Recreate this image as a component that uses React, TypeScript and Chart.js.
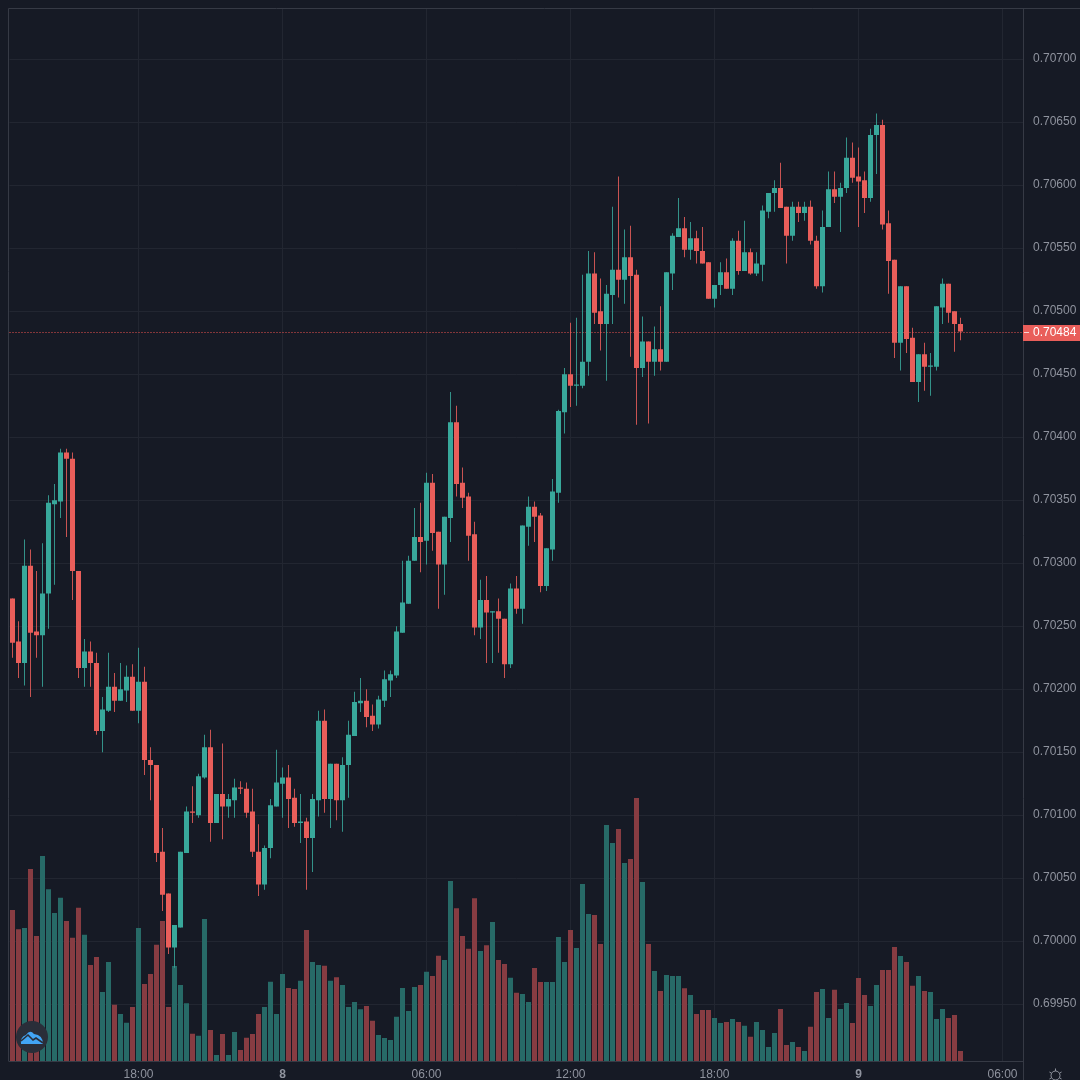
import React, { useEffect, useRef } from "react";
import { Chart, registerables } from "chart.js";

Chart.register(...registerables);

// Prices are listed in units of 0.00001.
const opens = [
  70272,70238,70221,70298,70246,70243,70276,70347,70349,70388,
  70383,70294,70217,70230,70221,70167,70183,70202,70191,70199,
  70210,70183,70206,70144,70140,70071,70038,69995,70011,70070,
  70103,70100,70130,70154,70094,70117,70107,70112,70122,70121,
  70103,70071,70045,70074,70107,70125,70130,70114,70094,70095,
  70082,70112,70175,70113,70141,70112,70140,70163,70189,70191,
  70179,70172,70191,70207,70211,70245,70268,70302,70321,70318,
  70364,70325,70299,70336,70412,70364,70353,70323,70249,70271,
  70261,70262,70256,70220,70280,70264,70329,70345,70338,70282,
  70311,70356,70420,70450,70441,70441,70460,70530,70500,70490,
  70513,70533,70525,70543,70529,70455,70476,70460,70470,70460,
  70530,70559,70566,70549,70558,70548,70539,70510,70521,70531,
  70518,70556,70532,70547,70530,70537,70579,70594,70598,70583,
  70560,70583,70578,70583,70556,70520,70567,70597,70591,70598,
  70622,70607,70604,70590,70640,70648,70570,70541,70475,70520,
  70479,70444,70466,70456,70456,70503,70522,70500,70490,
];
const closes = [
  70237,70221,70298,70245,70243,70276,70348,70350,70388,70383,
  70294,70217,70230,70221,70167,70184,70202,70191,70200,70210,
  70183,70206,70144,70140,70070,70037,69995,70013,70071,70103,
  70102,70131,70154,70094,70117,70107,70113,70122,70121,70102,
  70071,70045,70074,70108,70126,70130,70113,70094,70095,70082,
  70113,70175,70113,70141,70112,70140,70164,70190,70191,70178,
  70172,70192,70208,70212,70246,70269,70302,70321,70317,70364,
  70324,70299,70337,70412,70363,70352,70322,70249,70271,70261,
  70262,70256,70220,70280,70264,70330,70345,70337,70282,70312,
  70357,70421,70450,70441,70442,70460,70530,70499,70490,70514,
  70533,70525,70543,70528,70455,70476,70460,70470,70460,70531,
  70560,70566,70549,70558,70548,70538,70510,70521,70531,70518,
  70556,70532,70547,70530,70538,70580,70594,70598,70582,70560,
  70583,70578,70583,70556,70520,70567,70597,70591,70598,70622,
  70606,70603,70590,70640,70648,70569,70540,70475,70520,70478,
  70444,70466,70456,70457,70504,70522,70499,70490,70484,
];
const highs = [
  70272,70254,70319,70311,70294,70316,70354,70363,70391,70391,
  70388,70294,70240,70238,70229,70194,70229,70213,70221,70219,
  70220,70233,70218,70154,70140,70090,70038,70013,70071,70107,
  70123,70133,70164,70168,70117,70157,70117,70129,70127,70126,
  70121,70093,70076,70113,70152,70138,70140,70121,70117,70098,
  70117,70183,70184,70141,70141,70146,70175,70198,70209,70200,
  70188,70195,70215,70215,70250,70302,70306,70344,70348,70372,
  70371,70325,70337,70436,70425,70376,70356,70333,70287,70290,
  70262,70272,70256,70284,70290,70330,70353,70349,70340,70312,
  70367,70422,70455,70491,70495,70529,70548,70547,70526,70521,
  70583,70607,70565,70568,70533,70496,70476,70488,70504,70531,
  70562,70590,70575,70571,70564,70567,70539,70521,70539,70542,
  70558,70564,70572,70550,70547,70584,70594,70604,70618,70583,
  70587,70587,70587,70588,70560,70580,70611,70611,70602,70638,
  70634,70630,70611,70645,70657,70652,70580,70541,70520,70520,
  70487,70466,70475,70467,70504,70526,70522,70500,70495,
];
const lows = [
  70225,70209,70203,70194,70225,70202,70248,70283,70336,70321,
  70271,70209,70202,70202,70164,70150,70182,70182,70191,70190,
  70183,70173,70132,70112,70063,70024,69990,69979,70011,70070,
  70094,70098,70129,70079,70094,70081,70098,70098,70117,70098,
  70067,70036,70041,70066,70107,70098,70090,70091,70078,70041,
  70055,70099,70102,70090,70096,70087,70114,70163,70182,70170,
  70167,70169,70186,70194,70209,70245,70268,70302,70293,70299,
  70310,70264,70275,70317,70353,70344,70302,70243,70240,70221,
  70221,70229,70209,70217,70260,70252,70314,70317,70277,70278,
  70302,70348,70403,70424,70425,70439,70449,70490,70469,70445,
  70490,70511,70506,70464,70410,70448,70411,70449,70453,70460,
  70517,70559,70543,70541,70538,70538,70510,70503,70513,70518,
  70513,70529,70532,70529,70528,70524,70574,70579,70582,70538,
  70556,70571,70572,70553,70518,70515,70567,70586,70563,70594,
  70602,70567,70578,70587,70609,70565,70514,70463,70453,70467,
  70444,70428,70437,70433,70453,70490,70491,70468,70477,
];
const volumes = [
  453,395,399,576,375,615,515,444,490,420,
  370,460,379,288,312,207,297,169,141,115,
  162,399,231,261,349,420,162,285,228,173,
  82,76,426,93,18,81,18,87,33,70,
  81,141,162,238,141,261,219,216,241,393,
  297,288,286,241,251,228,162,177,155,165,
  121,78,69,63,133,219,150,222,228,268,
  255,316,303,540,458,375,337,488,330,347,
  417,303,291,250,205,201,177,279,237,237,
  237,372,297,393,339,531,441,438,351,708,
  654,696,594,606,789,537,351,270,210,258,
  255,255,218,198,141,153,153,129,114,117,
  126,117,106,73,117,93,42,84,156,48,
  57,42,30,103,207,216,129,214,156,174,
  114,249,198,165,228,273,273,342,315,297,
  226,255,210,207,126,156,129,138,30,
];

const priceTicks = [
  0.707, 0.7065, 0.706, 0.7055, 0.705, 0.7045, 0.704, 0.7035,
  0.703, 0.7025, 0.702, 0.7015, 0.701, 0.7005, 0.7, 0.6995,
];
const timeTicks: Record<number, string> = {
  21: "18:00", 45: "8", 69: "06:00", 93: "12:00", 117: "18:00", 141: "9", 165: "06:00",
};
const SLOT_COUNT = 169;
const LAST_PRICE = 0.70484;

const UP = "#38a89b";
const DOWN = "#e95e5a";
const UP_WICK = "rgba(56,168,155,0.85)";
const DOWN_WICK = "rgba(233,94,90,0.85)";
const UP_VOL = "#276a67";
const DOWN_VOL = "#873c42";
const BG = "#161a25";
const GRID = "#222631";
const BORDER = "#363a45";
const TEXT = "#8f939e";

const px = (v: number) => v / 100000;
const FONT = "'Liberation Sans', Arial, sans-serif";

const decorations = {
  id: "decorations",
  beforeDatasetsDraw(chart: any) {
    const { ctx, chartArea } = chart;
    const y = Math.round(chart.scales.y.getPixelForValue(LAST_PRICE)) + 0.5;
    ctx.save();
    ctx.strokeStyle = "#ef5350";
    ctx.lineWidth = 1;
    ctx.setLineDash([1, 2]);
    ctx.beginPath();
    ctx.moveTo(chartArea.left, y);
    ctx.lineTo(chartArea.right, y);
    ctx.stroke();
    ctx.restore();
  },
  afterDraw(chart: any) {
    const { ctx } = chart;
    ctx.save();
    // frame
    ctx.strokeStyle = BORDER;
    ctx.lineWidth = 1;
    ctx.beginPath();
    ctx.moveTo(1080, 8.5);
    ctx.lineTo(8.5, 8.5);
    ctx.lineTo(8.5, 1061.5);
    ctx.moveTo(1023.5, 1061);
    ctx.lineTo(1023.5, 1080);
    ctx.stroke();

    // last price tag
    const y = Math.round(chart.scales.y.getPixelForValue(LAST_PRICE)) + 0.5;
    ctx.fillStyle = DOWN;
    ctx.fillRect(1023, y - 7.5, 57, 16);
    ctx.strokeStyle = "#f6d5d4";
    ctx.beginPath();
    ctx.moveTo(1024, y);
    ctx.lineTo(1029, y);
    ctx.stroke();
    ctx.fillStyle = "#ffffff";
    ctx.font = `12px ${FONT}`;
    ctx.textAlign = "left";
    ctx.textBaseline = "middle";
    ctx.fillText(LAST_PRICE.toFixed(5), 1033, y + 0.5);

    // logo badge
    ctx.fillStyle = "#2a2e39";
    ctx.beginPath();
    ctx.arc(32, 1037, 16, 0, Math.PI * 2);
    ctx.fill();
    ctx.fillStyle = "#42a5f5";
    ctx.beginPath();
    ctx.moveTo(21, 1044);
    ctx.quadraticCurveTo(20, 1037, 26, 1035);
    ctx.quadraticCurveTo(30, 1029, 34, 1034);
    ctx.quadraticCurveTo(43, 1035, 43, 1044);
    ctx.closePath();
    ctx.fill();
    ctx.strokeStyle = "#2a2e39";
    ctx.lineWidth = 1.6;
    ctx.beginPath();
    ctx.moveTo(21, 1041);
    ctx.lineTo(28, 1035);
    ctx.lineTo(33, 1040);
    ctx.lineTo(36, 1038);
    ctx.lineTo(43, 1043);
    ctx.stroke();

    // settings glyph
    ctx.strokeStyle = TEXT;
    ctx.lineWidth = 1;
    ctx.beginPath();
    ctx.arc(1055.5, 1075.5, 4.5, 0, Math.PI * 2);
    ctx.stroke();
    for (let k = 0; k < 6; k++) {
      const a = (k * Math.PI) / 3 + Math.PI / 6;
      ctx.beginPath();
      ctx.moveTo(1055.5 + Math.cos(a) * 4.5, 1075.5 + Math.sin(a) * 4.5);
      ctx.lineTo(1055.5 + Math.cos(a) * 7, 1075.5 + Math.sin(a) * 7);
      ctx.stroke();
    }
    ctx.restore();
  },
};

export default function App() {
  const ref = useRef<HTMLCanvasElement>(null);
  useEffect(() => {
    document.body.style.margin = "0";
    document.body.style.background = BG;
    document.body.style.overflow = "hidden";
    const slots = Array.from({ length: SLOT_COUNT }, (_, i) => timeTicks[i] ?? "");
    const bodyColors = closes.map((c, i) => (c >= opens[i] ? UP : DOWN));
    const wickColors = closes.map((c, i) => (c >= opens[i] ? UP_WICK : DOWN_WICK));
    const volColors = closes.map((c, i) => (c >= opens[i] ? UP_VOL : DOWN_VOL));
    const chart = new Chart(ref.current!, {
      type: "bar",
      data: {
        labels: slots,
        datasets: [
          {
            label: "Body",
            data: opens.map((o, i) => [px(o), px(closes[i])]) as any,
            backgroundColor: bodyColors,
            barThickness: 5,
            minBarLength: 1,
            inflateAmount: 0,
            grouped: false,
            yAxisID: "y",
            order: 0,
          },
          {
            label: "Wick",
            data: lows.map((l, i) => [px(l), px(highs[i])]) as any,
            backgroundColor: wickColors,
            barThickness: 1,
            inflateAmount: 0,
            grouped: false,
            yAxisID: "y",
            order: 1,
          },
          {
            label: "Volume",
            data: volumes,
            backgroundColor: volColors,
            barThickness: 5,
            inflateAmount: 0,
            grouped: false,
            yAxisID: "vol",
            order: 2,
          },
        ],
      },
      options: {
        responsive: false,
        animation: false,
        events: [],
        layout: { padding: { left: 9.5, top: 9, right: 0, bottom: 0 } },
        plugins: { legend: { display: false }, tooltip: { enabled: false } },
        scales: {
          x: {
            type: "category",
            offset: true,
            grid: { color: GRID, offset: false, drawTicks: false },
            border: { color: BORDER },
            afterBuildTicks(scale: any) {
              scale.ticks = scale.ticks.filter((t: any) => timeTicks[t.value] !== undefined);
            },
            afterFit(scale: any) {
              scale.height = 19;
              scale.paddingLeft = 0;
              scale.paddingRight = 0;
            },
            ticks: {
              autoSkip: false,
              maxRotation: 0,
              padding: 6,
              color: TEXT,
              font: (c: any) => ({
                family: FONT,
                size: 12,
                weight: c.tick && /^\d$/.test(c.tick.label) ? "bold" : "normal",
              }),
            },
          } as any,
          y: {
            type: "linear",
            position: "right",
            min: 0.69905,
            max: 0.7074,
            grid: { color: GRID, drawTicks: false },
            border: { color: BORDER },
            afterBuildTicks(scale: any) {
              scale.ticks = priceTicks.map((value) => ({ value }));
            },
            afterFit(scale: any) {
              scale.width = 56.5;
              scale.paddingTop = 0;
              scale.paddingBottom = 0;
            },
            ticks: {
              padding: 9.5,
              labelOffset: -1,
              color: TEXT,
              font: { family: FONT, size: 12 },
              callback: (v: any) => Number(v).toFixed(5),
            },
          } as any,
          vol: {
            type: "linear",
            display: false,
            min: 0,
            max: 3156,
            afterFit(scale: any) {
              scale.paddingTop = 0;
              scale.paddingBottom = 0;
            },
          } as any,
        },
      },
      plugins: [
        {
          id: "bg",
          beforeDraw(c: any) {
            c.ctx.save();
            c.ctx.fillStyle = BG;
            c.ctx.fillRect(0, 0, c.width, c.height);
            c.ctx.restore();
          },
        },
        decorations,
      ],
    });
    return () => chart.destroy();
  }, []);
  return (
    <div style={{ position: "fixed", left: 0, top: 0, width: 1080, height: 1080 }}>
      <canvas ref={ref} width={1080} height={1080} style={{ display: "block" }} />
    </div>
  );
}
